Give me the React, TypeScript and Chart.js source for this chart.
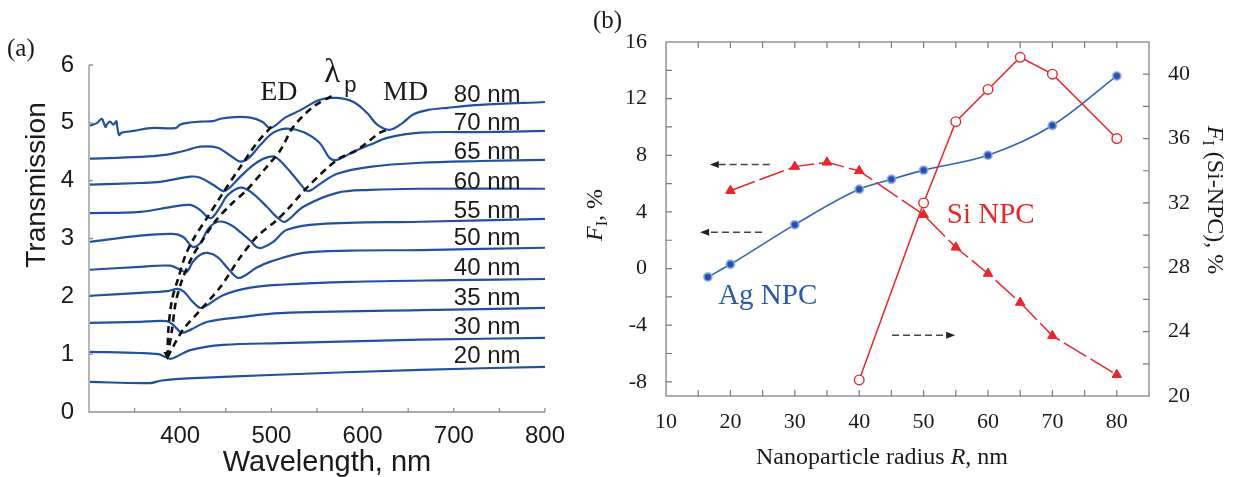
import React, { useEffect, useRef } from "react";
import { Chart, registerables } from "chart.js";

Chart.register(...registerables);

const SANS = '"Liberation Sans", Arial, Helvetica, sans-serif';
const SERIF = '"Liberation Serif", "Times New Roman", Times, serif';

// ---------------- Panel (a): transmission spectra ----------------
const wl80 = [301, 309, 314, 318, 320, 323, 327, 330, 331, 333, 336, 349, 367, 395, 400, 408, 422, 436, 444, 460, 477, 490, 499, 515, 532, 553, 572, 590, 605, 616, 630, 644, 655, 671, 693, 729, 800];
const t80 = [4.95, 5.0, 5.07, 4.93, 4.98, 5.02, 4.97, 5.03, 4.93, 4.79, 4.83, 4.86, 4.91, 4.91, 4.97, 5.0, 5.02, 5.03, 5.07, 5.1, 5.09, 5.02, 4.91, 5.09, 5.22, 5.4, 5.43, 5.36, 5.17, 4.97, 4.88, 5.0, 5.14, 5.22, 5.26, 5.31, 5.36];
const wl70 = [301, 356, 386, 395, 408, 422, 441, 458, 466, 475, 488, 502, 517, 535, 553, 564, 572, 590, 608, 627, 663, 729, 800];
const t70 = [4.38, 4.41, 4.45, 4.48, 4.53, 4.59, 4.57, 4.4, 4.33, 4.39, 4.62, 4.83, 4.9, 4.84, 4.65, 4.39, 4.36, 4.5, 4.62, 4.74, 4.83, 4.84, 4.86];
const wl65 = [301, 356, 378, 411, 422, 436, 447, 453, 466, 480, 493, 504, 517, 532, 540, 553, 572, 608, 663, 729, 800];
const t65 = [3.93, 3.96, 3.98, 4.07, 4.05, 3.93, 3.82, 3.86, 4.07, 4.27, 4.39, 4.41, 4.22, 3.94, 3.82, 3.94, 4.12, 4.24, 4.31, 4.34, 4.36];
const wl60 = [301, 356, 392, 411, 422, 430, 435, 444, 452, 466, 477, 495, 506, 515, 535, 572, 608, 663, 800];
const t60 = [3.44, 3.46, 3.55, 3.58, 3.49, 3.37, 3.36, 3.55, 3.75, 3.88, 3.81, 3.55, 3.37, 3.29, 3.55, 3.79, 3.84, 3.86, 3.86];
const wl55 = [301, 356, 392, 403, 411, 415, 422, 430, 438, 447, 457, 466, 477, 484, 490, 502, 517, 553, 663, 800];
const t55 = [2.94, 3.05, 3.08, 3.03, 2.89, 2.85, 2.92, 3.15, 3.27, 3.29, 3.22, 3.11, 2.96, 2.85, 2.84, 2.94, 3.15, 3.25, 3.29, 3.34];
const wl50 = [301, 356, 389, 400, 407, 414, 422, 430, 441, 453, 463, 470, 483, 499, 535, 586, 663, 800];
const t50 = [2.46, 2.51, 2.53, 2.46, 2.42, 2.6, 2.72, 2.75, 2.68, 2.47, 2.32, 2.35, 2.49, 2.6, 2.75, 2.79, 2.8, 2.84];
const wl40 = [301, 356, 386, 397, 404, 414, 422, 430, 447, 477, 510, 586, 696, 800];
const t40 = [2.01, 2.06, 2.09, 2.13, 2.08, 1.9, 1.8, 1.85, 2.02, 2.15, 2.2, 2.25, 2.28, 2.3];
const wl35 = [301, 356, 385, 392, 399, 403, 411, 430, 466, 510, 663, 800];
const t35 = [1.54, 1.56, 1.57, 1.51, 1.4, 1.37, 1.42, 1.56, 1.64, 1.71, 1.76, 1.8];
const wl30 = [301, 356, 376, 384, 389, 395, 411, 447, 510, 663, 800];
const t30 = [1.04, 1.02, 1.0, 0.95, 0.92, 0.95, 1.07, 1.16, 1.19, 1.25, 1.28];
const wl20 = [301, 367, 378, 395, 422, 499, 663, 800];
const t20 = [0.52, 0.5, 0.54, 0.57, 0.59, 0.64, 0.73, 0.78];

const curveWl = [wl80, wl70, wl65, wl60, wl55, wl50, wl40, wl35, wl30, wl20];
const curveT = [t80, t70, t65, t60, t55, t50, t40, t35, t30, t20];
const curveLabels = ["80 nm", "70 nm", "65 nm", "60 nm", "55 nm", "50 nm", "40 nm", "35 nm", "30 nm", "20 nm"];
const curveLabelT = [5.36, 4.87, 4.37, 3.86, 3.36, 2.88, 2.37, 1.85, 1.35, 0.85];

// dashed guide lines (ED, lambda_p, MD)
const edWl = [386, 387, 391, 398, 406, 416, 430, 447, 466, 484, 502];
const edT = [0.95, 1.42, 1.94, 2.32, 2.72, 3.03, 3.37, 3.79, 4.24, 4.65, 4.97];
const lpWl = [386, 391, 395, 402, 413, 425, 438, 455, 473, 495, 510, 524, 546, 568];
const lpT = [0.95, 1.42, 1.89, 2.28, 2.68, 2.98, 3.29, 3.58, 3.84, 4.24, 4.53, 4.93, 5.28, 5.48];
const mdWl = [386, 403, 422, 444, 466, 484, 506, 517, 539, 572, 594, 619, 628];
const mdT = [0.95, 1.42, 1.76, 2.16, 2.68, 3.03, 3.32, 3.49, 3.88, 4.36, 4.53, 4.83, 4.88];

const wlTicks = [400, 500, 600, 700, 800];
const transTicks = [0, 1, 2, 3, 4, 5, 6];

// ---------------- Panel (b): F vs radius ----------------
const radiusAg = [16.5, 20, 30, 40, 45, 50, 60, 70, 80];
const fAg = [-0.6, 0.3, 3.1, 5.6, 6.3, 6.95, 8.0, 10.1, 13.6];
const radiusSiTri = [20, 30, 35, 40, 50, 55, 60, 65, 70, 80];
const fSiLeft = [5.5, 7.2, 7.5, 6.9, 3.8, 1.5, -0.35, -2.4, -4.75, -7.5];
const radiusSiCirc = [40, 50, 55, 60, 65, 70, 80];
const fSiRight = [21.0, 32.0, 37.05, 39.05, 41.05, 40.0, 36.0];

const radiusTicks = [10, 20, 30, 40, 50, 60, 70, 80];
const fLeftTicks = [-8, -4, 0, 4, 8, 12, 16];
const fRightTicks = [20, 24, 28, 32, 36, 40];

function xy(xs: number[], ys: number[]) {
  return xs.map((x, i) => ({ x, y: ys[i] }));
}

type Part = { t: string; font: string; dy?: number };

function drawRich(ctx: CanvasRenderingContext2D, parts: Part[], x: number, y: number, rot: number, color: string) {
  ctx.save();
  ctx.translate(x, y);
  ctx.rotate(rot);
  ctx.fillStyle = color;
  ctx.textBaseline = "alphabetic";
  ctx.textAlign = "left";
  let total = 0;
  for (const p of parts) {
    ctx.font = p.font;
    total += ctx.measureText(p.t).width;
  }
  let cx = -total / 2;
  for (const p of parts) {
    ctx.font = p.font;
    ctx.fillText(p.t, cx, p.dy || 0);
    cx += ctx.measureText(p.t).width;
  }
  ctx.restore();
}

function PanelA() {
  const ref = useRef<HTMLCanvasElement>(null);
  useEffect(() => {
    const canvas = ref.current!;
    const blue = "#22509e";
    const datasets: any[] = curveWl.map((w, i) => ({
      data: xy(w, curveT[i]),
      borderColor: blue,
      borderWidth: 2.2,
      pointRadius: 0,
      tension: 0.35,
      order: 2,
    }));
    [
      [edWl, edT],
      [lpWl, lpT],
      [mdWl, mdT],
    ].forEach(([w, t]) =>
      datasets.push({
        data: xy(w, t),
        borderColor: "#111",
        borderWidth: 2.6,
        borderDash: [7, 5],
        pointRadius: 0,
        tension: 0.3,
        order: 1,
      })
    );

    const plugin = {
      id: "panelA",
      beforeDatasetsDraw(chart: any) {
        const { ctx, chartArea: a, scales } = chart;
        const xs = scales.x;
        const ys = scales.y;
        ctx.save();
        ctx.strokeStyle = "#8f8f8f";
        ctx.lineWidth = 1.3;
        ctx.beginPath();
        ctx.moveTo(a.left, a.top);
        ctx.lineTo(a.left, a.bottom);
        ctx.lineTo(a.right, a.bottom);
        for (let v = 350; v <= 800; v += 50) {
          const px = xs.getPixelForValue(v);
          ctx.moveTo(px, a.bottom);
          ctx.lineTo(px, a.bottom - 4);
        }
        for (let v = 1; v <= 6; v++) {
          const py = ys.getPixelForValue(v);
          ctx.moveTo(a.left, py);
          ctx.lineTo(a.left + 4, py);
        }
        ctx.stroke();
        ctx.restore();
      },
      afterDatasetsDraw(chart: any) {
        const { ctx, scales } = chart;
        const xs = scales.x;
        const ys = scales.y;
        const X = (v: number) => xs.getPixelForValue(v);
        const Y = (v: number) => ys.getPixelForValue(v);
        ctx.save();
        // arrow tip where the dashed lines meet
        const tx = X(edWl[0]);
        const ty = Y(edT[0]);
        ctx.fillStyle = "#111";
        ctx.beginPath();
        ctx.moveTo(tx - 4, ty - 5);
        ctx.lineTo(tx + 4, ty - 5);
        ctx.lineTo(tx, ty + 3);
        ctx.closePath();
        ctx.fill();

        ctx.fillStyle = "#1a1a1a";
        ctx.textAlign = "left";
        ctx.textBaseline = "alphabetic";
        ctx.font = `24px ${SANS}`;
        curveLabels.forEach((s, i) => ctx.fillText(s, X(700), Y(curveLabelT[i])));

        ctx.font = `28px ${SERIF}`;
        ctx.fillText("ED", X(487.7), Y(5.4));
        ctx.fillText("MD", X(622.5), Y(5.4));
        ctx.font = `33px ${SERIF}`;
        ctx.fillText("λ", X(558), Y(5.71));
        ctx.font = `22px ${SANS}`;
        ctx.fillText("p", X(580), Y(5.54));

        ctx.font = `25px ${SERIF}`;
        ctx.fillText("(a)", 7, 56);

        ctx.font = `29px ${SANS}`;
        ctx.textAlign = "center";
        ctx.fillText("Wavelength, nm", 327, 471);
        ctx.restore();
        drawRich(ctx, [{ t: "Transmission", font: `28px ${SANS}` }], 45, 185, -Math.PI / 2, "#1a1a1a");
      },
    };

    const chart = new Chart(canvas, {
      type: "line",
      data: { datasets },
      options: {
        responsive: false,
        animation: false,
        layout: { padding: { left: 0, right: 55, top: 65, bottom: 0 } },
        plugins: { legend: { display: false }, tooltip: { enabled: false } },
        scales: {
          x: {
            type: "linear",
            min: 300,
            max: 800,
            grid: { display: false },
            border: { display: false },
            afterBuildTicks: (s: any) => {
              s.ticks = wlTicks.map((v) => ({ value: v }));
            },
            afterFit: (s: any) => {
              s.height = 65;
            },
            ticks: { font: { family: SANS, size: 24 }, color: "#1a1a1a", padding: 2, maxRotation: 0, autoSkip: false },
          },
          y: {
            type: "linear",
            min: 0,
            max: 6,
            grid: { display: false },
            border: { display: false },
            afterBuildTicks: (s: any) => {
              s.ticks = transTicks.map((v) => ({ value: v }));
            },
            afterFit: (s: any) => {
              s.width = 89;
            },
            ticks: { font: { family: SANS, size: 24 }, color: "#1a1a1a", padding: 7, autoSkip: false },
          },
        },
      } as any,
      plugins: [plugin],
    });
    return () => chart.destroy();
  }, []);
  return <canvas ref={ref} width={600} height={477} style={{ position: "absolute", left: 0, top: 0, width: 600, height: 477 }} />;
}

function PanelB() {
  const ref = useRef<HTMLCanvasElement>(null);
  useEffect(() => {
    const canvas = ref.current!;
    const red = "#e8262b";
    const datasets: any[] = [
      {
        data: xy(radiusAg, fAg),
        yAxisID: "y",
        borderColor: "#3563b9",
        borderWidth: 1.6,
        cubicInterpolationMode: "monotone",
        pointRadius: 4,
        pointBackgroundColor: "#2452a8",
        pointBorderColor: "rgba(140,170,225,0.75)",
        pointBorderWidth: 2,
        order: 3,
      },
      {
        data: xy(radiusSiTri, fSiLeft),
        yAxisID: "y",
        borderColor: red,
        borderWidth: 1.5,
        borderDash: [26, 5],
        tension: 0,
        pointStyle: "triangle",
        pointRadius: 5.5,
        pointBackgroundColor: red,
        pointBorderColor: red,
        pointBorderWidth: 1,
        order: 2,
      },
      {
        data: xy(radiusSiCirc, fSiRight),
        yAxisID: "y2",
        borderColor: red,
        borderWidth: 1.5,
        tension: 0,
        pointRadius: 4.8,
        pointBackgroundColor: "#ffffff",
        pointBorderColor: red,
        pointBorderWidth: 1.4,
        order: 1,
      },
    ];

    const plugin = {
      id: "panelB",
      beforeDatasetsDraw(chart: any) {
        const { ctx, chartArea: a, scales } = chart;
        ctx.save();
        ctx.strokeStyle = "#7a7a7a";
        ctx.lineWidth = 1.2;
        ctx.strokeRect(a.left, a.top, a.right - a.left, a.bottom - a.top);
        ctx.beginPath();
        const L = 6;
        for (let v = 15; v <= 80; v += 5) {
          const px = scales.x.getPixelForValue(v);
          ctx.moveTo(px, a.bottom);
          ctx.lineTo(px, a.bottom - L);
          ctx.moveTo(px, a.top);
          ctx.lineTo(px, a.top + L);
        }
        for (let v = -8; v <= 14; v += 2) {
          const py = scales.y.getPixelForValue(v);
          ctx.moveTo(a.left, py);
          ctx.lineTo(a.left + L, py);
        }
        for (let v = 22; v <= 40; v += 2) {
          const py = scales.y2.getPixelForValue(v);
          ctx.moveTo(a.right, py);
          ctx.lineTo(a.right - L, py);
        }
        ctx.stroke();
        ctx.restore();
      },
      afterDatasetsDraw(chart: any) {
        const { ctx, scales } = chart;
        const X = (v: number) => scales.x.getPixelForValue(v);
        const Y = (v: number) => scales.y.getPixelForValue(v);
        ctx.save();
        const arrow = (x1: number, x2: number, yv: number) => {
          const p1 = X(x1);
          const p2 = X(x2);
          const py = Y(yv);
          const dir = Math.sign(p2 - p1);
          ctx.strokeStyle = "#444";
          ctx.fillStyle = "#222";
          ctx.lineWidth = 1.6;
          ctx.setLineDash([7, 4]);
          ctx.beginPath();
          ctx.moveTo(p1, py);
          ctx.lineTo(p2 - dir * 8, py);
          ctx.stroke();
          ctx.setLineDash([]);
          ctx.beginPath();
          ctx.moveTo(p2, py);
          ctx.lineTo(p2 - dir * 9, py - 3.5);
          ctx.lineTo(p2 - dir * 9, py + 3.5);
          ctx.closePath();
          ctx.fill();
        };
        arrow(26.1, 16.8, 7.35);
        arrow(24.9, 15.3, 2.56);
        arrow(45.1, 54.9, -4.71);

        ctx.textAlign = "left";
        ctx.textBaseline = "alphabetic";
        ctx.font = `29px ${SERIF}`;
        ctx.fillStyle = "#2c5aa8";
        ctx.fillText("Ag NPC", X(18.1), Y(-2.47));
        ctx.fillStyle = "#e8262b";
        ctx.fillText("Si NPC", X(53.6), Y(3.25));

        ctx.fillStyle = "#1a1a1a";
        ctx.font = `25px ${SERIF}`;
        ctx.fillText("(b)", 13, 28);
        ctx.restore();

        drawRich(
          ctx,
          [
            { t: "Nanoparticle radius ", font: `24px ${SERIF}` },
            { t: "R", font: `italic 24px ${SERIF}` },
            { t: ", nm", font: `24px ${SERIF}` },
          ],
          302,
          464,
          0,
          "#1a1a1a"
        );
        drawRich(
          ctx,
          [
            { t: "F", font: `italic 24px ${SERIF}` },
            { t: "I", font: `16px ${SERIF}`, dy: 5 },
            { t: ", %", font: `24px ${SERIF}` },
          ],
          22,
          215,
          -Math.PI / 2,
          "#1a1a1a"
        );
        drawRich(
          ctx,
          [
            { t: "F", font: `italic 24px ${SERIF}` },
            { t: "I", font: `16px ${SERIF}`, dy: 5 },
            { t: " (Si-NPC), %", font: `24px ${SERIF}` },
          ],
          628,
          200,
          Math.PI / 2,
          "#1a1a1a"
        );
      },
    };

    const tickFont = { family: SERIF, size: 22 };
    const chart = new Chart(canvas, {
      type: "line",
      data: { datasets },
      options: {
        responsive: false,
        animation: false,
        layout: { padding: { left: 0, right: 0, top: 42, bottom: 0 } },
        plugins: { legend: { display: false }, tooltip: { enabled: false } },
        scales: {
          x: {
            type: "linear",
            min: 10,
            max: 85,
            grid: { display: false },
            border: { display: false },
            afterBuildTicks: (s: any) => {
              s.ticks = radiusTicks.map((v) => ({ value: v }));
            },
            afterFit: (s: any) => {
              s.height = 81;
            },
            ticks: { font: tickFont, color: "#1a1a1a", padding: 5, maxRotation: 0, autoSkip: false },
          },
          y: {
            type: "linear",
            position: "left",
            min: -9,
            max: 16,
            grid: { display: false },
            border: { display: false },
            afterBuildTicks: (s: any) => {
              s.ticks = fLeftTicks.map((v) => ({ value: v }));
            },
            afterFit: (s: any) => {
              s.width = 86;
            },
            ticks: { font: tickFont, color: "#1a1a1a", padding: 11, autoSkip: false },
          },
          y2: {
            type: "linear",
            position: "right",
            min: 20,
            max: 42,
            grid: { display: false },
            border: { display: false },
            afterBuildTicks: (s: any) => {
              s.ticks = fRightTicks.map((v) => ({ value: v }));
            },
            afterFit: (s: any) => {
              s.width = 89;
            },
            ticks: { font: tickFont, color: "#1a1a1a", padding: 11, autoSkip: false },
          },
        },
      } as any,
      plugins: [plugin],
    });
    return () => chart.destroy();
  }, []);
  return <canvas ref={ref} width={658} height={477} style={{ position: "absolute", left: 580, top: 0, width: 658, height: 477 }} />;
}

export default function App() {
  return (
    <div style={{ position: "absolute", left: 0, top: 0, width: 1238, height: 477, background: "#ffffff", overflow: "hidden" }}>
      <PanelA />
      <PanelB />
    </div>
  );
}
